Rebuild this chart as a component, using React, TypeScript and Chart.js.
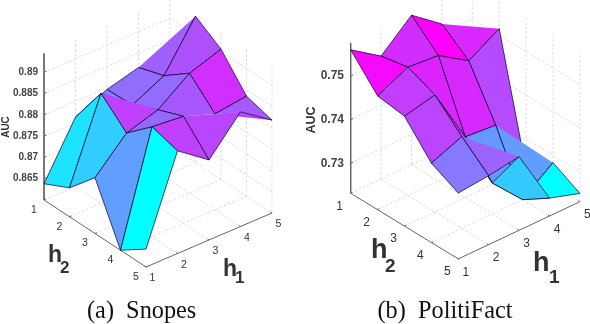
import React, { useEffect, useRef } from "react";
import { Chart, registerables } from "chart.js";

Chart.register(...registerables);

// AUC surfaces: one row per h1 (1..5), one column per h2 (1..5)
const snopesAuc = [
  [0.8638, 0.8668, 0.8731, 0.86, 0.8642],
  [0.8763, 0.8858, 0.8804, 0.8858, 0.8841],
  [0.8796, 0.8799, 0.8827, 0.8851, 0.8788],
  [0.8816, 0.8836, 0.8881, 0.8825, 0.8869],
  [0.882, 0.8944, 0.8906, 0.8835, 0.8818],
];
const politifactAuc = [
  [0.756, 0.7492, 0.7483, 0.7413, 0.7382],
  [0.7513, 0.7525, 0.7499, 0.7441, 0.7389],
  [0.7574, 0.7519, 0.737, 0.7302, 0.74],
  [0.7521, 0.7474, 0.7364, 0.7231, 0.7272],
  [0.75, 0.7515, 0.7231, 0.7283, 0.725],
];
const hTicks = [1, 2, 3, 4, 5];
const snopesZTicks = [0.865, 0.87, 0.875, 0.88, 0.885, 0.89];
const politifactZTicks = [0.73, 0.74, 0.75];
// faces the original renders as a single triangle, [h1, h2] of the face's low corner
const snopesHalfFaces = [[4, 1], [2, 2]];
const politifactHalfFaces = [[4, 1], [2, 4], [4, 3]];
// faces with edges the original leaves unstroked: [h1, h2, ...edge numbers]
const snopesBareEdges = [[3, 3, 2], [3, 4, 0, 1], [4, 4, 2, 3]];
const politifactBareEdges: number[][] = [];
// extra half faces: [h1, h2, colour h1, colour h2]
const snopesExtraHalves = [[4, 4, 3, 4]];
const politifactExtraHalves: number[][] = [];

type V = [number, number];
type Lbl = { x: number; y: number; size: number; subX: number; subY: number; subSize: number };
type View = {
  z: number[][]; zTicks: number[]; half: number[][]; bare: number[][]; extra: number[][];
  o: V; a1: V; a2: V; zBase: number; zTop: number; zScale: number;
  zFont: number; zLabelX: number; tickFont: number;
  h2Off: V; h1Off: V;
  auc: { x: number; y: number; size: number };
  h2L: Lbl; h1L: Lbl;
};

const views: View[] = [
  {
    z: snopesAuc, zTicks: snopesZTicks, half: snopesHalfFaces, bare: snopesBareEdges, extra: snopesExtraHalves,
    o: [44, 200], a1: [31.5, -13.5], a2: [25.5, 16.75], zBase: 0.86, zTop: 0.8944, zScale: 4260,
    zFont: 10, zLabelX: 38, tickFont: 10.5, h2Off: [-10, 10], h1Off: [6.5, 11.5],
    auc: { x: 6, y: 127, size: 10 },
    h2L: { x: 48, y: 262, size: 23, subX: 60, subY: 273, subSize: 17 },
    h1L: { x: 223, y: 275.5, size: 23, subX: 235, subY: 283, subSize: 17 },
  },
  {
    z: politifactAuc, zTicks: politifactZTicks, half: politifactHalfFaces, bare: politifactBareEdges, extra: politifactExtraHalves,
    o: [55.7, 193.3], a1: [30.4, -14.3], a2: [26.9, 16.4], zBase: 0.7231, zTop: 0.7576, zScale: 4360,
    zFont: 12, zLabelX: 49, tickFont: 12, h2Off: [-11, 13], h1Off: [7.5, 13.3],
    auc: { x: 17, y: 120, size: 12.5 },
    h2L: { x: 76, y: 258, size: 27, subX: 90, subY: 271.5, subSize: 19 },
    h1L: { x: 238, y: 270.5, size: 27, subX: 254, subY: 283, subSize: 19 },
  },
];

const cool = (t: number) => {
  const r = Math.round(255 * t);
  return `rgb(${r},${255 - r},255)`;
};

function buildDatasets(v: View) {
  const P = (h1: number, h2: number, z: number) => ({
    x: v.o[0] + (h1 - 1) * v.a1[0] + (h2 - 1) * v.a2[0],
    y: v.o[1] + (h1 - 1) * v.a1[1] + (h2 - 1) * v.a2[1] - (z - v.zBase) * v.zScale,
  });
  const line = (data: any[], color: string, width: number, dash: number[] = []) => ({
    data, showLine: true, pointRadius: 0, borderColor: color, borderWidth: width, borderDash: dash,
    fill: false, tension: 0,
  });
  const ds: any[] = [];
  const gridC = "#dcdcdc";
  const dash = [2.5, 2];
  // walls
  v.zTicks.forEach((z) => ds.push(line([P(1, 1, z), P(5, 1, z), P(5, 5, z)], gridC, 1, dash)));
  hTicks.slice(1).forEach((h) => ds.push(line([P(h, 1, v.zBase), P(h, 1, v.zTop)], gridC, 1, dash)));
  hTicks.slice(1).forEach((h) => ds.push(line([P(5, h, v.zBase), P(5, h, v.zTop)], gridC, 1, dash)));
  // floor
  hTicks.slice(1).forEach((h) => ds.push(line([P(h, 1, v.zBase), P(h, 5, v.zBase)], gridC, 1, dash)));
  hTicks.slice(0, 4).forEach((h) => ds.push(line([P(1, h, v.zBase), P(5, h, v.zBase)], gridC, 1, dash)));
  // axes
  const axisC = "#666";
  ds.push(line([P(1, 1, v.zTop), P(1, 1, v.zBase), P(1, 5, v.zBase), P(5, 5, v.zBase)], axisC, 1));
  hTicks.forEach((h) => {
    ds.push(line([P(1, h, v.zBase), P(1.06, h, v.zBase)], axisC, 1));
    ds.push(line([P(h, 5, v.zBase), P(h, 4.94, v.zBase)], axisC, 1));
  });
  v.zTicks.forEach((z) => ds.push(line([P(1, 1, z), P(1.08, 1, z)], axisC, 1)));
  // surface, back to front: each face is one fill dataset and its outline edges
  const lo = Math.min(...v.z.flat());
  const hi = Math.max(...v.z.flat());
  const edge = "rgba(10,0,40,0.9)";
  const colourOf = (h1: number, h2: number) => cool((v.z[h1 - 1][h2 - 1] - lo) / (hi - lo));
  const pushFace = (corners: any[], colour: string, isBare: (n: number) => boolean) => {
    ds.push({
      data: [...corners, corners[0]],
      showLine: true, pointRadius: 0, tension: 0,
      backgroundColor: colour,
      fill: "shape",
      borderColor: colour,
      borderWidth: 0,
    });
    corners.forEach((p, n) => {
      if (!isBare(n)) ds.push(line([p, corners[(n + 1) % corners.length]], edge, 0.8));
    });
  };
  for (let i = 3; i >= 0; i--) {
    for (let j = 0; j < 4; j++) {
      const h1 = i + 1, h2 = j + 1;
      const a = P(h1, h2, v.z[i][j]);
      const b = P(h1 + 1, h2, v.z[i + 1][j]);
      const c = P(h1 + 1, h2 + 1, v.z[i + 1][j + 1]);
      const d = P(h1, h2 + 1, v.z[i][j + 1]);
      const isHalf = v.half.some(([x, y]) => x === h1 && y === h2);
      const bare = v.bare.find(([x, y]) => x === h1 && y === h2);
      const bareN = bare ? bare.slice(2) : [];
      if (isHalf) pushFace([a, c, d], colourOf(h1, h2), (n) => n === 0);
      else pushFace([a, b, c, d], colourOf(h1, h2), (n) => bareN.includes(n));
      const extra = v.extra.find(([x, y]) => x === h1 && y === h2);
      if (extra) pushFace([a, c, d], colourOf(extra[2], extra[3]), (n) => n !== 1);
    }
  }
  // Chart.js paints the last dataset first
  return ds.reverse();
}

const textPlugin = (v: View) => ({
  id: "labels3d",
  afterDatasetsDraw(chart: any) {
    const ctx = chart.ctx as CanvasRenderingContext2D;
    const fam = '"Liberation Sans", Arial, sans-serif';
    const P = (h1: number, h2: number, z: number): V => [
      v.o[0] + (h1 - 1) * v.a1[0] + (h2 - 1) * v.a2[0],
      v.o[1] + (h1 - 1) * v.a1[1] + (h2 - 1) * v.a2[1] - (z - v.zBase) * v.zScale,
    ];
    ctx.save();
    ctx.fillStyle = "#444";
    ctx.textAlign = "right";
    ctx.textBaseline = "middle";
    ctx.font = `bold ${v.zFont}px ${fam}`;
    v.zTicks.forEach((z) => ctx.fillText(String(z), v.zLabelX, P(1, 1, z)[1]));
    ctx.textAlign = "center";
    ctx.font = `${v.tickFont}px ${fam}`;
    ctx.fillStyle = "#333";
    hTicks.forEach((h) => {
      const a = P(1, h, v.zBase);
      ctx.fillText(String(h), a[0] + v.h2Off[0], a[1] + v.h2Off[1]);
      const b = P(h, 5, v.zBase);
      ctx.fillText(String(h), b[0] + v.h1Off[0], b[1] + v.h1Off[1]);
    });
    ctx.save();
    ctx.translate(v.auc.x, v.auc.y);
    ctx.rotate(-Math.PI / 2);
    ctx.font = `bold ${v.auc.size}px ${fam}`;
    ctx.fillText("AUC", 0, 0);
    ctx.restore();
    ctx.textAlign = "left";
    ctx.textBaseline = "alphabetic";
    [[v.h2L, "2"], [v.h1L, "1"]].forEach(([l, s]: any) => {
      ctx.font = `bold ${l.size}px ${fam}`;
      ctx.fillText("h", l.x, l.y);
      ctx.font = `bold ${l.subSize}px ${fam}`;
      ctx.fillText(s, l.subX, l.subY);
    });
    ctx.restore();
  },
});

function Panel({ view, left }: { view: View; left: number }) {
  const ref = useRef<HTMLCanvasElement>(null);
  useEffect(() => {
    const chart = new Chart(ref.current as HTMLCanvasElement, {
      type: "scatter",
      data: { datasets: buildDatasets(view) },
      options: {
        animation: false,
        responsive: false,
        devicePixelRatio: 1,
        layout: { padding: 0 },
        plugins: { legend: { display: false }, tooltip: { enabled: false } },
        scales: {
          x: { type: "linear", min: 0, max: 295, display: false },
          y: { type: "linear", min: 0, max: 324, reverse: true, display: false },
        },
      },
      plugins: [textPlugin(view)],
    } as any);
    return () => chart.destroy();
  }, [view]);
  return (
    <canvas ref={ref} width={295} height={324}
      style={{ position: "absolute", left, top: 0, width: 295, height: 324, display: "block" }} />
  );
}

const captionStyle: React.CSSProperties = {
  position: "absolute", top: 296, height: 28, lineHeight: "28px",
  fontFamily: '"Liberation Serif", serif', fontSize: 24.3, color: "#111", whiteSpace: "pre",
};

export default function App() {
  return (
    <div style={{ position: "fixed", left: 0, top: 0, width: 590, height: 324, background: "#fff", overflow: "hidden" }}>
      <Panel view={views[0]} left={0} />
      <Panel view={views[1]} left={295} />
      <div style={{ ...captionStyle, left: 87 }}>(a)  Snopes</div>
      <div style={{ ...captionStyle, left: 377.5 }}>(b)  PolitiFact</div>
    </div>
  );
}
